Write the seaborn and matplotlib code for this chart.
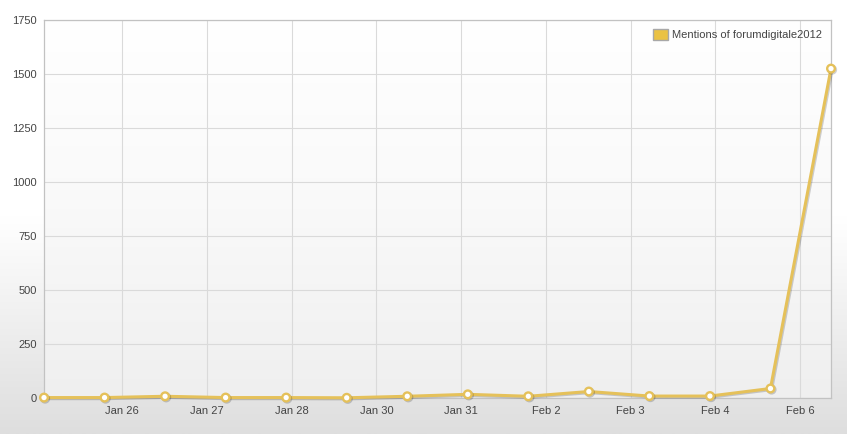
import numpy as np
import pandas as pd
import matplotlib
matplotlib.use("Agg")
import matplotlib.pyplot as plt
import matplotlib.patheffects as pe
from matplotlib.patches import Patch
import seaborn as sns

# daily mentions, one point per day
day = list(range(14))
mentions = [2, 2, 8, 2, 2, 1, 8, 17, 8, 30, 9, 9, 44, 1525]

tick_pos = [1.29, 2.69, 4.09, 5.49, 6.89, 8.29, 9.69, 11.09, 12.49]
tick_labels = ["Jan 26", "Jan 27", "Jan 28", "Jan 30", "Jan 31",
               "Feb 2", "Feb 3", "Feb 4", "Feb 6"]
y_ticks = [0, 250, 500, 750, 1000, 1250, 1500, 1750]

df = pd.DataFrame({"day": day, "mentions": mentions})

sns.set_style("white")
plt.rcParams["font.family"] = ["Liberation Sans", "DejaVu Sans"]

gold = "#e5c15a"
txt = "#444444"

fig = plt.figure(figsize=(8.47, 4.34), dpi=100)

# figure background gradient
bg = fig.add_axes([0, 0, 1, 1], zorder=-10)
grad = np.linspace(0, 1, 256).reshape(-1, 1)
bg.imshow(grad, aspect="auto", cmap=matplotlib.colors.LinearSegmentedColormap.from_list(
    "bgc", ["#ffffff", "#ffffff", "#dedede"]), extent=[0, 1, 0, 1], origin="upper")
bg.axis("off")

ax = fig.add_axes([44 / 847, 36 / 434, 787 / 847, 378 / 434])
ax.patch.set_alpha(0)
ax.imshow(grad, aspect="auto", cmap=matplotlib.colors.LinearSegmentedColormap.from_list(
    "axc", ["#ffffff", "#f9f9f9", "#efefef"]), extent=[0, 1, 0, 1],
    transform=ax.transAxes, origin="upper", zorder=0)

sns.lineplot(data=df, x="day", y="mentions", ax=ax, color=gold, lw=2.2,
             marker="o", markersize=5.5, markerfacecolor="white",
             markeredgecolor=gold, markeredgewidth=1.7, zorder=5, clip_on=False,
             path_effects=[pe.SimpleLineShadow(offset=(0.8, -0.8), alpha=0.18), pe.Normal()])

ax.set_xlim(0, 13)
ax.set_ylim(0, 1750)
ax.set_xticks(tick_pos)
ax.set_xticklabels(tick_labels)
ax.set_yticks(y_ticks)
ax.set_xlabel("")
ax.set_ylabel("")
ax.grid(True, color="#dadada", lw=0.8)
ax.set_axisbelow(True)
for s in ax.spines.values():
    s.set_color("#c2c2c2")
    s.set_linewidth(0.9)
ax.tick_params(length=0, labelsize=8, colors=txt)
ax.tick_params(axis="x", pad=6)
ax.tick_params(axis="y", pad=5)

ax.legend(handles=[Patch(facecolor="#eac244", edgecolor="#a8a8a8", label="Mentions of forumdigitale2012")],
          loc="upper right", frameon=False, fontsize=8, labelcolor=txt,
          handlelength=1.4, handleheight=1.2, handletextpad=0.35,
          borderaxespad=0.4)

fig.savefig("out.png", dpi=100)
